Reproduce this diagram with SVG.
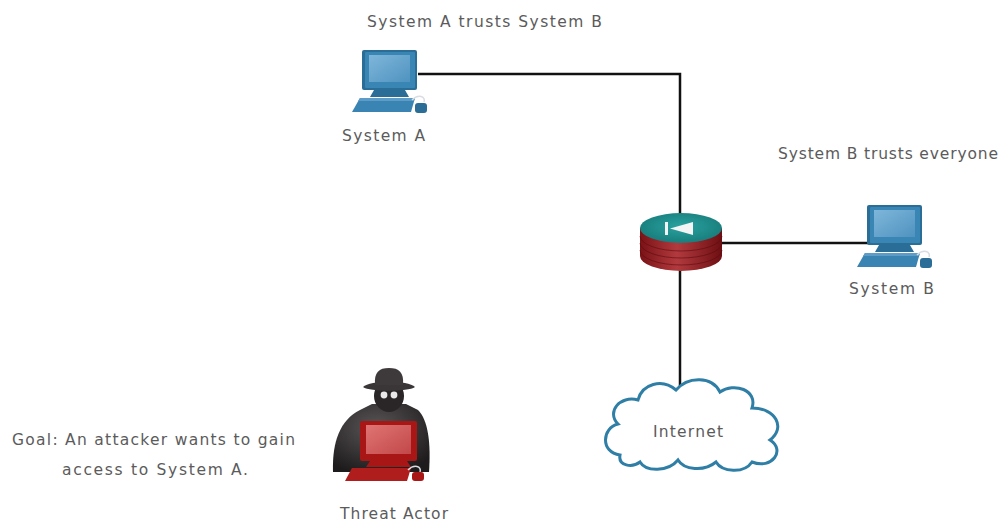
<svg xmlns="http://www.w3.org/2000/svg" width="1005" height="522" viewBox="0 0 1005 522">
  <style>
    .lbl { font-family: "DejaVu Sans", "Open Sans", sans-serif; font-size: 15.5px; fill: #5b5b5b; }
    .link { stroke: #111; stroke-width: 2.5; fill: none; }
  </style>
  <defs>
    <linearGradient id="scrBlue" x1="0" y1="0" x2="1" y2="1">
      <stop offset="0" stop-color="#7fb6da"/>
      <stop offset="1" stop-color="#4f93c0"/>
    </linearGradient>
    <linearGradient id="scrRed" x1="0" y1="0" x2="1" y2="1">
      <stop offset="0" stop-color="#e07474"/>
      <stop offset="1" stop-color="#c24848"/>
    </linearGradient>
    <linearGradient id="routerBody" x1="0" y1="0" x2="1" y2="0">
      <stop offset="0" stop-color="#7a1216"/>
      <stop offset="0.45" stop-color="#b23a3e"/>
      <stop offset="1" stop-color="#6e0f13"/>
    </linearGradient>
    <radialGradient id="routerTop" cx="0.5" cy="0.45" r="0.6">
      <stop offset="0" stop-color="#2aa3a0"/>
      <stop offset="1" stop-color="#167a79"/>
    </radialGradient>
    <radialGradient id="shade" cx="0.45" cy="0.35" r="0.7">
      <stop offset="0" stop-color="#5a5657"/>
      <stop offset="1" stop-color="#1e1b1c"/>
    </radialGradient>
    <!-- desktop PC glyph, 76 x 63 -->
    <g id="pc">
      <rect x="10" y="0" width="55" height="40" rx="2" fill="#2a6d97"/>
      <rect x="13" y="2" width="50" height="36" rx="1" fill="#3985b4"/>
      <rect x="17" y="5" width="41" height="27" fill="url(#scrBlue)"/>
      <path d="M22,40 L53,40 L57,47 L18,47 Z" fill="#2a6d97"/>
      <path d="M8,48 L63,48 L59,62 L0,62 Z" fill="#3a84b3"/>
      <path d="M8,48 L63,48 L62,51 L6,51 Z" fill="#5c9cc6"/>
      <path d="M60,50 C66,44 74,46 72,52" stroke="#d8dde2" stroke-width="1.5" fill="none"/>
      <rect x="63" y="53" width="12" height="10" rx="3" fill="#2a6d97"/>
    </g>
  </defs>

  <rect width="1005" height="522" fill="#ffffff"/>

  <!-- links -->
  <g id="connectors">
    <path class="link" d="M418,74 H680 V214"/>
    <path class="link" d="M722,243 H870"/>
    <path class="link" d="M680,270 V392"/>
  </g>

  <!-- System A -->
  <g id="system-a">
    <use href="#pc" x="352" y="50"/>
    <text class="lbl" x="342" y="141" textLength="83" lengthAdjust="spacing">System A</text>
  </g>
  <text class="lbl" x="367" y="27" textLength="235" lengthAdjust="spacing">System A trusts System B</text>

  <!-- System B -->
  <g id="system-b">
    <use href="#pc" x="857" y="205"/>
    <text class="lbl" x="849" y="294" textLength="85" lengthAdjust="spacing">System B</text>
  </g>
  <text class="lbl" x="778" y="159" textLength="220" lengthAdjust="spacing">System B trusts everyone</text>

  <!-- firewall / router -->
  <g id="router">
    <path d="M640,228 V256 A41,15 0 0 0 722,256 V228 Z" fill="url(#routerBody)"/>
    <g stroke="#5e0c10" stroke-width="1" opacity="0.6" fill="none">
      <path d="M640,236 A41,15 0 0 0 722,236"/>
      <path d="M640,243 A41,15 0 0 0 722,243"/>
      <path d="M640,250 A41,15 0 0 0 722,250"/>
    </g>
    <ellipse cx="681" cy="228" rx="41" ry="15" fill="url(#routerTop)"/>
    <rect x="665" y="222" width="3" height="13" fill="#f4f4f4"/>
    <path d="M670,228.5 L693,222 L693,235 Z" fill="#f4f4f4"/>
  </g>

  <!-- Internet cloud -->
  <g id="internet">
    <path d="M620,455 C600,452 602,428 618,424 C606,412 620,395 638,400 C642,384 662,378 676,390 C688,376 712,376 720,392 C734,382 758,390 752,408 C776,408 786,428 770,440 C786,450 772,470 752,462 C744,474 722,472 716,462 C704,472 684,470 678,460 C668,472 646,472 640,462 C632,468 618,466 620,455 Z" fill="#ffffff" stroke="#2f7ea6" stroke-width="3"/>
    <text class="lbl" x="653" y="437" textLength="70" lengthAdjust="spacing">Internet</text>
  </g>

  <!-- Threat actor -->
  <g id="threat-actor">
    <!-- cloaked body -->
    <path d="M333,472 C332,442 340,420 360,410 L372,404 L406,404 L418,410 C428,420 431,442 429,472 Z" fill="url(#shade)"/>
    <!-- head -->
    <ellipse cx="389" cy="396" rx="15" ry="16" fill="#2a2627"/>
    <!-- hat -->
    <path d="M363,387 C370,380 408,380 415,387 C408,392 370,392 363,387 Z" fill="#3a3536"/>
    <path d="M375,385 C374,372 379,368 389,368 C399,368 404,372 403,385 Z" fill="#3e393a"/>
    <!-- glasses -->
    <circle cx="384" cy="395" r="3.4" fill="#e8e8e8"/>
    <circle cx="394" cy="395" r="3.4" fill="#e8e8e8"/>
    <!-- red PC -->
    <rect x="360" y="421" width="57" height="40" rx="2" fill="#a81616"/>
    <rect x="366" y="425" width="45" height="29" fill="url(#scrRed)"/>
    <path d="M370,461 L407,461 L411,467 L366,467 Z" fill="#a81616"/>
    <path d="M352,468 L411,468 L407,481 L345,481 Z" fill="#b01d1d"/>
    <path d="M408,470 C414,464 422,466 420,472" stroke="#d8dde2" stroke-width="1.5" fill="none"/>
    <rect x="412" y="472" width="12" height="9" rx="3" fill="#a81616"/>
    <text class="lbl" x="340" y="519" textLength="108" lengthAdjust="spacing">Threat Actor</text>
  </g>

  <!-- caption -->
  <g id="goal">
    <text class="lbl" x="12" y="445" textLength="283" lengthAdjust="spacing">Goal: An attacker wants to gain</text>
    <text class="lbl" x="62" y="475" textLength="186" lengthAdjust="spacing">access to System A.</text>
  </g>
</svg>
